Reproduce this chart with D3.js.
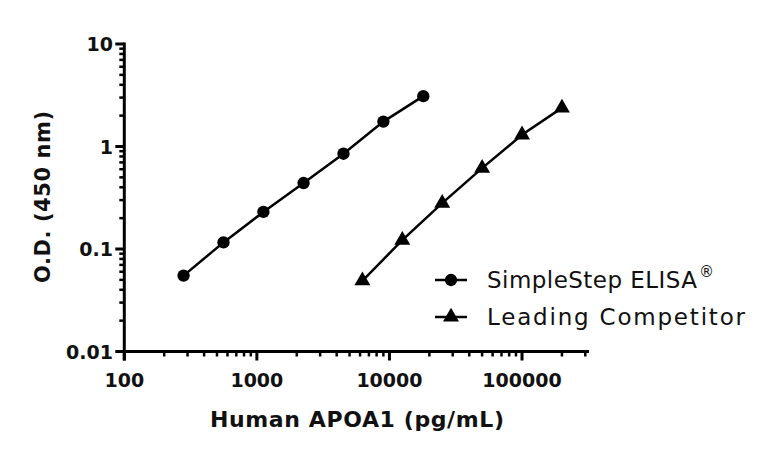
<!DOCTYPE html>
<html>
<head>
<meta charset="utf-8">
<script src="https://cdn.jsdelivr.net/npm/d3@7"></script>
<style>
  body { margin: 0; background: #fff; }
  text { font-family: "DejaVu Sans", sans-serif; fill: #111; }
</style>
</head>
<body>
<div id="chart"></div>
<script>
// concentrations (pg/mL) and O.D. readings
const simpleConc = [280, 560, 1120, 2250, 4500, 9000, 18000];
const simpleOD = [0.055, 0.116, 0.23, 0.44, 0.85, 1.75, 3.1];
const compConc = [6250, 12500, 25000, 50000, 100000, 200000];
const compOD = [0.049, 0.122, 0.28, 0.615, 1.3, 2.38];
const xTicks = [100, 1000, 10000, 100000];
const yTicks = [0.01, 0.1, 1, 10];
const seriesNames = ["SimpleStep ELISA", "Leading Competitor"];

const width = 768;
const height = 451;

var svg = d3.select("#chart").append("svg")
    .attr("width", width)
    .attr("height", height);

var x = d3.scaleLog().domain([100, 320000]).range([124.3, 589]);
var y = d3.scaleLog().domain([0.01, 10]).range([351.5, 44]);

// minor ticks: 2..9 per decade
function minors(lo, hi) {
    var out = [];
    for (var d = lo; d < hi; d *= 10) {
        for (var k = 2; k <= 9; k++) if (d * k <= hi) out.push(d * k);
    }
    return out;
}

// x axis
var gx = svg.append("g");
gx.append("line")
    .attr("x1", x(100) - 1.5).attr("x2", x.range()[1])
    .attr("y1", y(0.01)).attr("y2", y(0.01))
    .attr("stroke", "#000").attr("stroke-width", 3);
gx.selectAll(".maj").data(xTicks).join("line")
    .attr("x1", d => x(d)).attr("x2", d => x(d))
    .attr("y1", y(0.01)).attr("y2", y(0.01) + 9)
    .attr("stroke", "#000").attr("stroke-width", 3);
gx.selectAll(".min").data(minors(100, 300000)).join("line")
    .attr("x1", d => x(d)).attr("x2", d => x(d))
    .attr("y1", y(0.01)).attr("y2", y(0.01) + 5)
    .attr("stroke", "#000").attr("stroke-width", 2.5);
gx.selectAll("text").data(xTicks).join("text")
    .attr("x", d => x(d)).attr("y", 387)
    .attr("text-anchor", "middle")
    .style("font-size", "19px").style("font-weight", "bold")
    .text(d => d);

// y axis
var gy = svg.append("g");
gy.append("line")
    .attr("x1", x(100)).attr("x2", x(100))
    .attr("y1", y(10) - 1.5).attr("y2", y(0.01) + 9)
    .attr("stroke", "#000").attr("stroke-width", 3);
gy.selectAll(".maj").data(yTicks).join("line")
    .attr("x1", x(100) - 9).attr("x2", x(100))
    .attr("y1", d => y(d)).attr("y2", d => y(d))
    .attr("stroke", "#000").attr("stroke-width", 3);
gy.selectAll(".min").data(minors(0.01, 10)).join("line")
    .attr("x1", x(100) - 5).attr("x2", x(100))
    .attr("y1", d => y(d)).attr("y2", d => y(d))
    .attr("stroke", "#000").attr("stroke-width", 2.5);
gy.selectAll("text").data(yTicks).join("text")
    .attr("x", 113).attr("y", d => y(d) + 7)
    .attr("text-anchor", "end")
    .style("font-size", "19px").style("font-weight", "bold")
    .text(d => d);

// axis titles
svg.append("text")
    .attr("x", 357).attr("y", 427)
    .attr("text-anchor", "middle")
    .attr("textLength", 294).attr("lengthAdjust", "spacing")
    .style("font-size", "22px").style("font-weight", "bold")
    .text("Human APOA1 (pg/mL)");
svg.append("text")
    .attr("transform", "translate(50,197) rotate(-90)")
    .attr("text-anchor", "middle")
    .attr("textLength", 172).attr("lengthAdjust", "spacing")
    .style("font-size", "21px").style("font-weight", "bold")
    .text("O.D. (450 nm)");

var line = d3.line().x(d => x(d[0])).y(d => y(d[1]));
var simple = d3.zip(simpleConc, simpleOD);
var comp = d3.zip(compConc, compOD);

svg.append("path").datum(simple).attr("d", line)
    .attr("fill", "none").attr("stroke", "#000").attr("stroke-width", 2.5);
svg.append("path").datum(comp).attr("d", line)
    .attr("fill", "none").attr("stroke", "#000").attr("stroke-width", 2.5);

var circle = d3.symbol().type(d3.symbolCircle).size(120);
var tri = d3.symbol().type(d3.symbolTriangle).size(110);

svg.selectAll(".pt1").data(simple).join("path")
    .attr("transform", d => `translate(${x(d[0])},${y(d[1])})`)
    .attr("d", circle).attr("fill", "#000");
svg.selectAll(".pt2").data(comp).join("path")
    .attr("transform", d => `translate(${x(d[0])},${y(d[1])})`)
    .attr("d", tri).attr("fill", "#000");

// legend
var leg = svg.append("g");
var rows = [
    {name: seriesNames[0], sym: circle, y: 280, len: 210},
    {name: seriesNames[1], sym: tri, y: 317, len: 258}
];
rows.forEach(function(r, i) {
    leg.append("line")
        .attr("x1", 435).attr("x2", 467).attr("y1", r.y).attr("y2", r.y)
        .attr("stroke", "#000").attr("stroke-width", 2.5);
    leg.append("path")
        .attr("transform", `translate(451,${r.y})`)
        .attr("d", r.sym).attr("fill", "#000");
    leg.append("text")
        .attr("x", 487).attr("y", r.y + 8)
        .attr("textLength", r.len).attr("lengthAdjust", "spacing")
        .style("font-size", "23px")
        .text(r.name);
    if (i === 0) {
        leg.append("text")
            .attr("x", 487 + r.len + 2).attr("y", r.y - 3)
            .style("font-size", "15px")
            .text("®");
    }
});
</script>
</body>
</html>
